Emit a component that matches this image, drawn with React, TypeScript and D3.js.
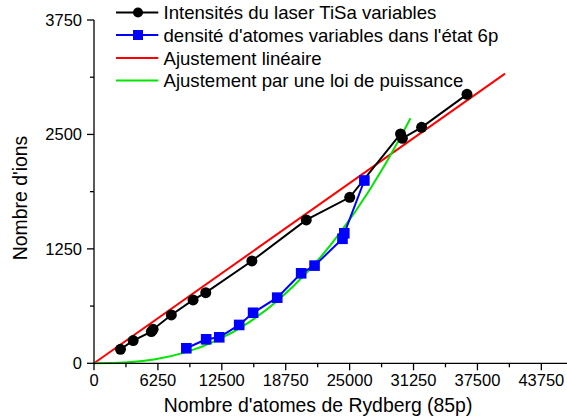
import React from "react";
import * as d3 from "d3";

const circlesX = [2590, 3830, 5610, 5780, 7560, 9690, 10930, 15440, 20760, 25010, 29980, 30160, 32040, 36480];
const circlesY = [153, 248, 346, 371, 528, 692, 772, 1118, 1566, 1813, 2505, 2458, 2578, 2938];

const squaresX = [9030, 10970, 12250, 14200, 15560, 17920, 20260, 21570, 24300, 24480, 26440];
const squaresY = [164, 262, 284, 419, 552, 717, 983, 1067, 1360, 1420, 1997];

const linFitX = [0, 40200];
const linFitY = [0, 3164];

const powFitX = [0, 3000, 6000, 9000, 12000, 15000, 18000, 21000, 24000, 27000, 30000, 30950];
const powFitY = [0, 8, 44, 122, 250, 437, 690, 1014, 1416, 1901, 2474, 2676];

const xTicks = [0, 6250, 12500, 18750, 25000, 31250, 37500, 43750];
const yTicks = [0, 1250, 2500, 3750];

const legendLabels = [
  "Intensités du laser TiSa variables",
  "densité d'atomes variables dans l'état 6p",
  "Ajustement linéaire",
  "Ajustement par une loi de puissance",
];

const W = 567;
const H = 419;
const FONT = "'Liberation Sans', Arial, sans-serif";

export default function App() {
  const x = d3.scaleLinear().domain([0, 46250]).range([94, 566.9]);
  const y = d3.scaleLinear().domain([0, 3750]).range([363.3, 20]);

  const line = d3
    .line<[number, number]>()
    .x((d) => x(d[0]))
    .y((d) => y(d[1]));
  const smooth = d3
    .line<[number, number]>()
    .x((d) => x(d[0]))
    .y((d) => y(d[1]))
    .curve(d3.curveMonotoneX);

  const circ = circlesX.map((v, i) => [v, circlesY[i]] as [number, number]);
  const sq = squaresX.map((v, i) => [v, squaresY[i]] as [number, number]);
  const lin = linFitX.map((v, i) => [v, linFitY[i]] as [number, number]);
  const pw = powFitX.map((v, i) => [v, powFitY[i]] as [number, number]);

  const xMinor = xTicks.map((t) => t + 3125).filter((t) => t <= 46250);
  const yMinor = yTicks.slice(0, -1).map((t) => t + 625);

  const y0 = y(0);
  const x0 = x(0);

  const legendY = [12.5, 35, 58, 80.5];
  const colors = ["#000000", "#0000ff", "#ff0000", "#00e600"];

  return (
    <svg
      width={W}
      height={H}
      style={{ position: "absolute", left: 0, top: 0, background: "#fff" }}
      fontFamily={FONT}
    >
      <rect x={0} y={0} width={W} height={H} fill="#fff" />
      {/* fits */}
      <path d={line(lin) || ""} fill="none" stroke="#ff0000" strokeWidth={2} />
      <path d={smooth(pw) || ""} fill="none" stroke="#00e600" strokeWidth={2} />
      {/* black series */}
      <path d={line(circ) || ""} fill="none" stroke="#000" strokeWidth={2} />
      {circ.map((d, i) => (
        <circle key={"c" + i} cx={x(d[0])} cy={y(d[1])} r={5.5} fill="#000" />
      ))}
      {/* blue series */}
      <path d={line(sq) || ""} fill="none" stroke="#0000ff" strokeWidth={2} />
      {sq.map((d, i) => (
        <rect key={"s" + i} x={x(d[0]) - 5.3} y={y(d[1]) - 5.3} width={10.6} height={10.6} fill="#0000ff" />
      ))}
      {/* axes */}
      <line x1={x0} x2={x0} y1={20} y2={y0} stroke="#000" strokeWidth={1.3} />
      <line x1={x0} x2={W} y1={y0} y2={y0} stroke="#000" strokeWidth={1.3} />
      {xTicks.map((t) => (
        <g key={"xt" + t}>
          <line x1={x(t)} x2={x(t)} y1={y0} y2={y0 + 7} stroke="#000" strokeWidth={1.3} />
          <text x={x(t)} y={385.5} fontSize={16.5} textAnchor="middle" fill="#000">
            {t}
          </text>
        </g>
      ))}
      {xMinor.map((t) => (
        <line key={"xm" + t} x1={x(t)} x2={x(t)} y1={y0} y2={y0 + 4} stroke="#000" strokeWidth={1.3} />
      ))}
      {yTicks.map((t) => (
        <g key={"yt" + t}>
          <line x1={x0 - 7} x2={x0} y1={y(t)} y2={y(t)} stroke="#000" strokeWidth={1.3} />
          <text x={82} y={y(t) + 6} fontSize={16.5} textAnchor="end" fill="#000">
            {t}
          </text>
        </g>
      ))}
      {yMinor.map((t) => (
        <line key={"ym" + t} x1={x0 - 4} x2={x0} y1={y(t)} y2={y(t)} stroke="#000" strokeWidth={1.3} />
      ))}
      {/* axis titles */}
      <text x={318} y={411.5} fontSize={19.4} textAnchor="middle" fill="#000">
        Nombre d'atomes de Rydberg (85p)
      </text>
      <text transform="translate(27,198) rotate(-90)" fontSize={19.4} textAnchor="middle" fill="#000">
        Nombre d'ions
      </text>
      {/* legend */}
      {legendLabels.map((lab, i) => (
        <g key={"lg" + i}>
          <line x1={116} x2={158.3} y1={legendY[i]} y2={legendY[i]} stroke={colors[i]} strokeWidth={2} />
          {i === 0 && <circle cx={138} cy={legendY[i]} r={5} fill="#000" />}
          {i === 1 && <rect x={133} y={legendY[i] - 5} width={10} height={10} fill="#0000ff" />}
          <text x={163.5} y={legendY[i] + 6.5} fontSize={18.6} fill="#000">
            {lab}
          </text>
        </g>
      ))}
    </svg>
  );
}
